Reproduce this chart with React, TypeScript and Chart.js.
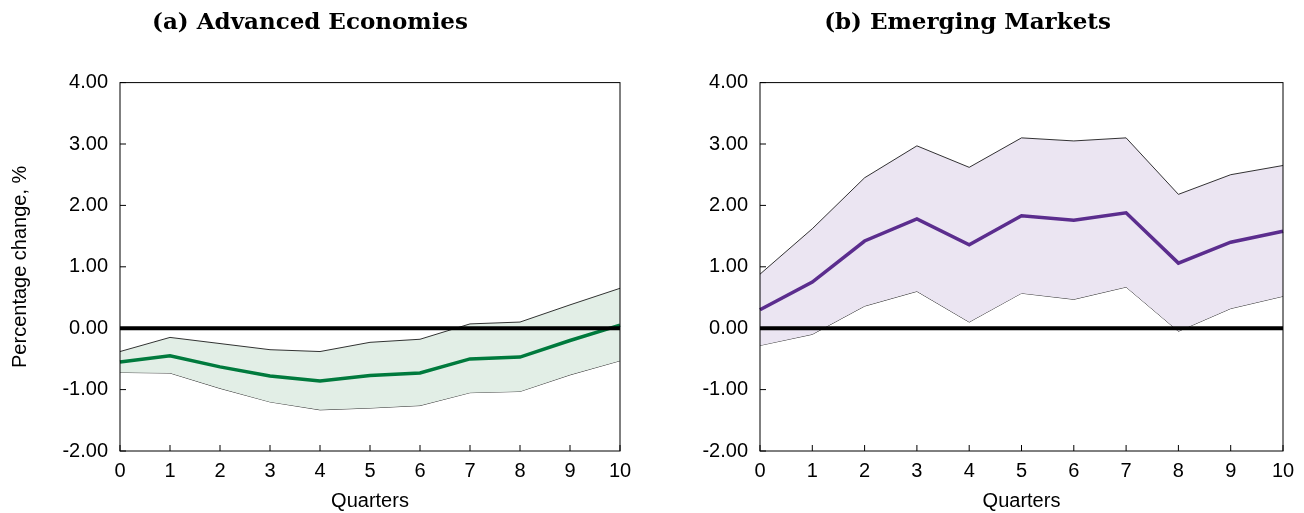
import React, { useEffect, useRef } from 'react';
import { Chart, registerables } from 'chart.js';
Chart.register(...registerables);

const quarters = ['0', '1', '2', '3', '4', '5', '6', '7', '8', '9', '10'];
const yTicks = [4, 3, 2, 1, 0, -1, -2];

const aeMean = [-0.55, -0.45, -0.63, -0.78, -0.86, -0.77, -0.73, -0.5, -0.47, -0.2, 0.05];
const aeUpper = [-0.38, -0.15, -0.25, -0.35, -0.38, -0.23, -0.18, 0.07, 0.1, 0.38, 0.65];
const aeLower = [-0.72, -0.73, -0.98, -1.2, -1.33, -1.3, -1.26, -1.05, -1.03, -0.76, -0.53];

const emMean = [0.3, 0.75, 1.42, 1.78, 1.36, 1.83, 1.76, 1.88, 1.06, 1.4, 1.58];
const emUpper = [0.88, 1.62, 2.45, 2.97, 2.62, 3.1, 3.05, 3.1, 2.18, 2.5, 2.65];
const emLower = [-0.28, -0.1, 0.36, 0.6, 0.1, 0.57, 0.47, 0.67, -0.05, 0.32, 0.52];

const sans = '"Liberation Sans", Arial, sans-serif';

// frame, inward ticks and the zero line
const framePlugin = {
  id: 'frame',
  afterDatasetsDraw(chart) {
    const { ctx, chartArea: a, scales } = chart;
    ctx.save();
    ctx.strokeStyle = '#000';
    ctx.lineWidth = 1;
    ctx.strokeRect(a.left, a.top, a.right - a.left, a.bottom - a.top);
    ctx.beginPath();
    yTicks.forEach(v => {
      const y = scales.y.getPixelForValue(v);
      ctx.moveTo(a.left, y);
      ctx.lineTo(a.left + 6, y);
    });
    quarters.forEach((_, i) => {
      const x = scales.x.getPixelForValue(i);
      ctx.moveTo(x, a.bottom);
      ctx.lineTo(x, a.bottom - 6);
    });
    ctx.stroke();
    const y0 = scales.y.getPixelForValue(0);
    ctx.lineWidth = 4;
    ctx.beginPath();
    ctx.moveTo(a.left, y0);
    ctx.lineTo(a.right, y0);
    ctx.stroke();
    ctx.restore();
  }
};

const Panel = ({ title, mean, upper, lower, line, fill, yWidth, rightPad, yTitle }) => {
  const ref = useRef(null);
  useEffect(() => {
    const chart = new Chart(ref.current.getContext('2d'), {
      type: 'line',
      data: {
        labels: quarters,
        datasets: [
          { data: mean, borderColor: line, borderWidth: 3.5, pointRadius: 0, fill: false, order: 0 },
          { data: upper, borderColor: '#000', borderWidth: 0.8, pointRadius: 0, fill: '+1', backgroundColor: fill, order: 1 },
          { data: lower, borderColor: '#000', borderWidth: 0.8, pointRadius: 0, fill: false, order: 1 }
        ]
      },
      options: {
        animation: false,
        responsive: false,
        layout: { padding: { right: rightPad } },
        plugins: {
          legend: { display: false },
          tooltip: { enabled: false },
          title: {
            display: true,
            text: title,
            font: { family: '"DejaVu Serif", serif', size: 23, weight: 'bold' },
            color: '#000',
            padding: { top: 9, bottom: 46 }
          }
        },
        scales: {
          x: {
            offset: false,
            grid: { display: false },
            border: { display: false },
            ticks: { color: '#000', font: { family: sans, size: 20 }, padding: 0, maxRotation: 0 },
            title: { display: true, text: 'Quarters', color: '#000', font: { family: sans, size: 20 }, padding: 0 },
            afterFit: s => { s.height = 62; }
          },
          y: {
            min: -2,
            max: 4,
            grid: { display: false },
            border: { display: false },
            ticks: { stepSize: 1, color: '#000', font: { family: sans, size: 20 }, callback: v => Number(v).toFixed(2), padding: 4 },
            title: { display: yTitle, text: 'Percentage change, %', color: '#000', font: { family: sans, size: 20 }, padding: { top: 8, bottom: 0 } },
            afterFit: s => { s.width = yWidth; }
          }
        }
      },
      plugins: [framePlugin]
    });
    return () => chart.destroy();
  }, []);
  return <canvas ref={ref} width={652} height={513} style={{ width: 652, height: 513, display: 'block' }} />;
};

export default function App() {
  return (
    <div style={{ position: 'fixed', left: 0, top: 0, width: 1304, height: 513, display: 'flex', background: '#fff' }}>
      <Panel title="(a) Advanced Economies" mean={aeMean} upper={aeUpper} lower={aeLower}
        line="#007a3d" fill="#e2eee6" yWidth={120} rightPad={32} yTitle={true} />
      <Panel title="(b) Emerging Markets" mean={emMean} upper={emUpper} lower={emLower}
        line="#5b2d8e" fill="#ebe5f2" yWidth={108} rightPad={21} yTitle={false} />
    </div>
  );
}
